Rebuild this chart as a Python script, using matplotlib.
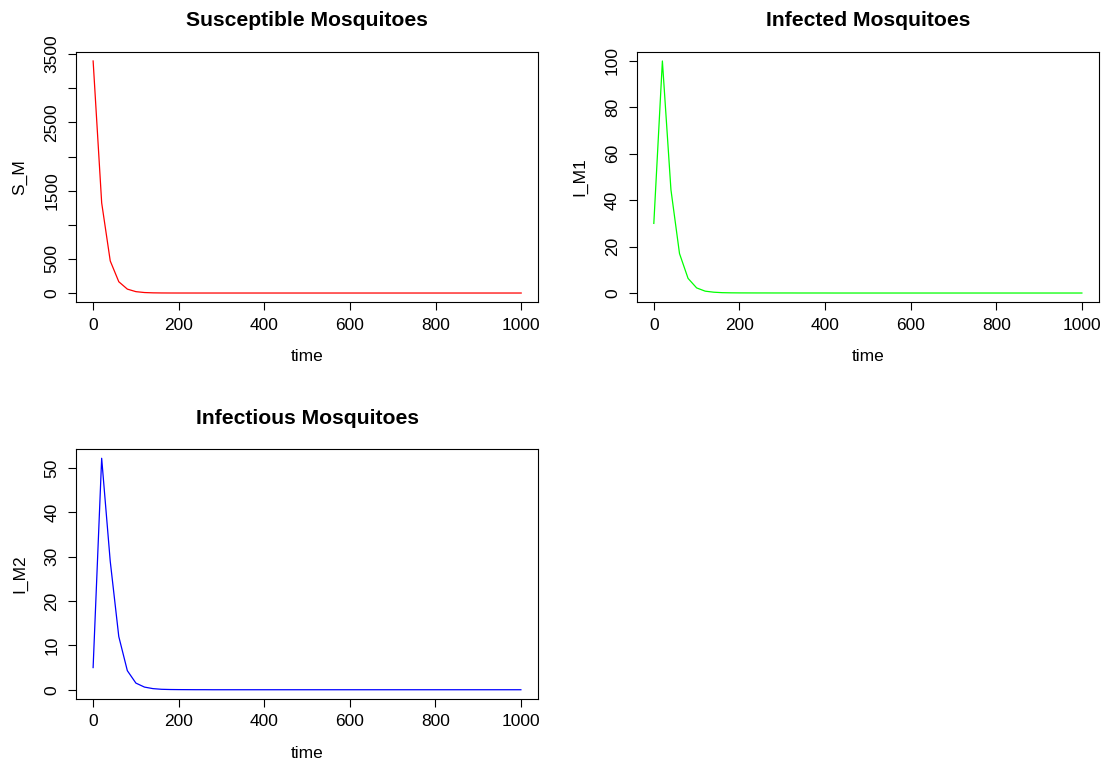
import matplotlib
matplotlib.use("Agg")
import matplotlib.pyplot as plt

plt.rcParams['font.family'] = ['Liberation Sans', 'DejaVu Sans']

# time grid of the model output (every 20 days)
time = [0, 20, 40, 60, 80, 100, 120, 140, 160, 180,
        200, 220, 240, 260, 280, 300, 320, 340, 360, 380,
        400, 420, 440, 460, 480, 500, 520, 540, 560, 580,
        600, 620, 640, 660, 680, 700, 720, 740, 760, 780,
        800, 820, 840, 860, 880, 900, 920, 940, 960, 980, 1000]

S_M = [3400, 1320, 470, 165, 57, 20, 7.0, 2.5, 0.9, 0.3,
       0.1, 0.04, 0.01, 0, 0, 0, 0, 0, 0, 0,
       0, 0, 0, 0, 0, 0, 0, 0, 0, 0,
       0, 0, 0, 0, 0, 0, 0, 0, 0, 0,
       0, 0, 0, 0, 0, 0, 0, 0, 0, 0, 0]

I_M1 = [30, 100, 44.5, 17, 6.3, 2.2, 0.8, 0.35, 0.15, 0.08,
        0.05, 0.04, 0.03, 0.03, 0.02, 0.02, 0.02, 0.01, 0.01, 0.01,
        0.01, 0, 0, 0, 0, 0, 0, 0, 0, 0,
        0, 0, 0, 0, 0, 0, 0, 0, 0, 0,
        0, 0, 0, 0, 0, 0, 0, 0, 0, 0, 0]

I_M2 = [5, 52.2, 29, 12, 4.3, 1.5, 0.6, 0.25, 0.1, 0.05,
        0.03, 0.02, 0.01, 0.01, 0, 0, 0, 0, 0, 0,
        0, 0, 0, 0, 0, 0, 0, 0, 0, 0,
        0, 0, 0, 0, 0, 0, 0, 0, 0, 0,
        0, 0, 0, 0, 0, 0, 0, 0, 0, 0, 0]

x_ticks = [0, 200, 400, 600, 800, 1000]
sm_ticks = [0, 500, 1000, 1500, 2000, 2500, 3000, 3500]
sm_labels = ['0', '500', '', '1500', '', '2500', '', '3500']
im1_ticks = [0, 20, 40, 60, 80, 100]
im2_ticks = [0, 10, 20, 30, 40, 50]

W, H = 1105, 765
fig = plt.figure(figsize=(W / 100, H / 100), dpi=100)


def r_axes(left, top, right, bottom):
    ax = fig.add_axes([left / W, 1 - bottom / H, (right - left) / W, (bottom - top) / H])
    for s in ax.spines.values():
        s.set_linewidth(0.8)
        s.set_color('black')
    ax.tick_params(axis='both', direction='out', length=6, width=0.8,
                   labelsize=12.5, pad=5)
    ax.tick_params(axis='y', labelrotation=90, pad=6)
    return ax


def panel(ax, y, color, title, ylab, yticks, ylabels=None):
    ax.plot(time, y, color=color, linewidth=0.9)
    ymax = max(y)
    ax.set_xlim(-40, 1040)
    ax.set_ylim(-0.04 * ymax, 1.04 * ymax)
    ax.set_xticks(x_ticks)
    ax.set_xticklabels([str(t) for t in x_ticks])
    ax.set_yticks(yticks)
    ax.set_yticklabels(ylabels if ylabels else [str(t) for t in yticks], va='center')
    h = ax.get_position().height * H
    ax.text(0.5, 1 + 31 / h, title, transform=ax.transAxes, ha='center', va='center',
            fontsize=15.2, fontweight='bold')
    ax.set_xlabel('time', fontsize=12.5)
    ax.xaxis.set_label_coords(0.5, -47 / h)
    ax.set_ylabel(ylab, fontsize=12.5)
    ax.yaxis.set_label_coords(-49 / 462, 0.5)


ax1 = r_axes(76, 51.7, 538.3, 302.3)
panel(ax1, S_M, 'red', 'Susceptible Mosquitoes', 'S_M', sm_ticks, sm_labels)

ax2 = r_axes(636.7, 51.7, 1099, 302.3)
panel(ax2, I_M1, '#00ff00', 'Infected Mosquitoes', 'I_M1', im1_ticks)

ax3 = r_axes(76, 449, 538, 699)
panel(ax3, I_M2, 'blue', 'Infectious Mosquitoes', 'I_M2', im2_ticks)

fig.savefig('out.png', dpi=100)
